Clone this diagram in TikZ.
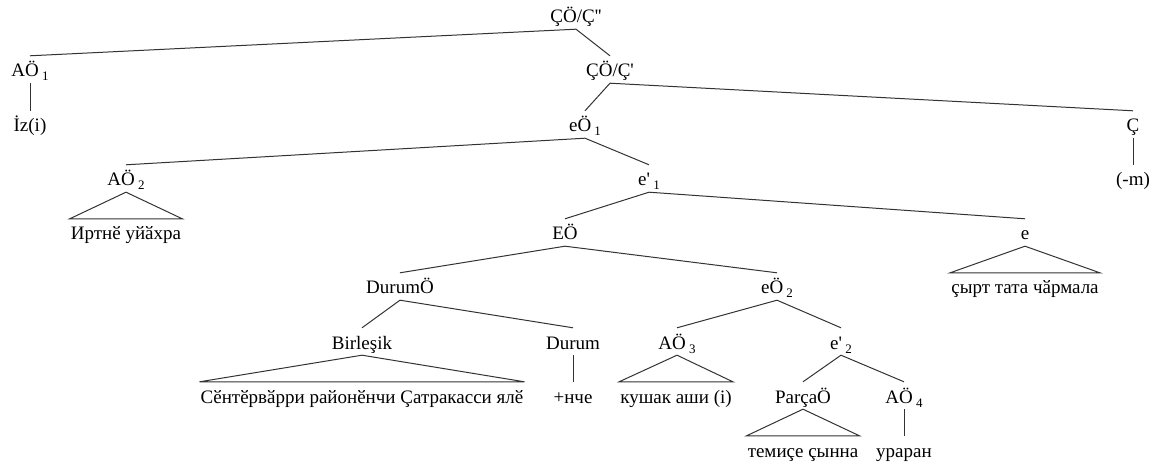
\documentclass[tikz,border=0pt]{standalone}
\usepackage{fontspec}
\newfontfamily\treefont{Liberation Serif}
\tikzset{lbl/.style={font={\treefont\fontsize{19}{21}\selectfont},anchor=base,inner xsep=1pt,inner ysep=0pt,text height=21pt,text depth=6pt},
         edge/.style={line width=1pt,black!80}}
\newcommand\lo[1]{\,\raisebox{-4pt}{\fontsize{13}{13}\selectfont #1}}

\begin{document}
\begin{tikzpicture}[x=1pt,y=-1pt]
        \useasboundingbox (0,0) rectangle (1157,465);
        % labels, one row every 54pt
        \node[lbl] (root) at (576,23) {ÇÖ/Ç''};
        \node[lbl] (ao1) at (30,77) {AÖ\lo{1}};
        \node[lbl] (cp1) at (610,77) {ÇÖ/Ç'};
        \node[lbl] (iz) at (30,132) {İz(i)};
        \node[lbl] (eo1) at (585,132) {eÖ\lo{1}};
        \node[lbl] (cc) at (1133,132) {Ç};
        \node[lbl] (ao2) at (126,186) {AÖ\lo{2}};
        \node[lbl] (ep1) at (649,186) {e'\lo{1}};
        \node[lbl] (ms) at (1133,186) {(-m)};
        \node[lbl] (w1) at (126,240) {Иртнӗ уйӑхра};
        \node[lbl] (eo) at (565,240) {EÖ};
        \node[lbl] (e) at (1025,240) {e};
        \node[lbl] (w2) at (1025,294) {çырт тата чӑрмала};
        \node[lbl] (do) at (400,294) {DurumÖ};
        \node[lbl] (eo2) at (777,294) {eÖ\lo{2}};
        \node[lbl] (bir) at (362,349) {Birleşik};
        \node[lbl] (dur) at (573,349) {Durum};
        \node[lbl] (ao3) at (677,349) {AÖ\lo{3}};
        \node[lbl] (ep2) at (841,349) {e'\lo{2}};
        \node[lbl] (w3) at (362,403) {Сӗнтӗрвӑрри районӗнчи Çатракасси ялӗ};
        \node[lbl] (nche) at (573,403) {+нче};
        \node[lbl] (w4) at (676,403) {кушак аши (i)};
        \node[lbl] (pa) at (803,403) {ParçaÖ};
        \node[lbl] (ao4) at (904,403) {AÖ\lo{4}};
        \node[lbl] (w5) at (803,457) {темиçе çынна};
        \node[lbl] (w6) at (904,457) {ураран};
        % branches
        \draw[edge] (ao1.north) -- (root.south) -- (cp1.north);
        \draw[edge] (ao1.south) -- (iz.north);
        \draw[edge] (eo1.north) -- (cp1.south) -- (cc.north);
        \draw[edge] (cc.south) -- (ms.north);
        \draw[edge] (ao2.north) -- (eo1.south) -- (ep1.north);
        \draw[edge] (eo.north) -- (ep1.south) -- (e.north);
        \draw[edge] (do.north) -- (eo.south) -- (eo2.north);
        \draw[edge] (bir.north) -- (do.south) -- (dur.north);
        \draw[edge] (dur.south) -- (nche.north);
        \draw[edge] (ao3.north) -- (eo2.south) -- (ep2.north);
        \draw[edge] (pa.north) -- (ep2.south) -- (ao4.north);
        \draw[edge] (ao4.south) -- (w6.north);
        % roofs
        \draw[edge] (ao2.south) -- (w1.north west) -- (w1.north east) -- cycle;
        \draw[edge] (e.south) -- (w2.north west) -- (w2.north east) -- cycle;
        \draw[edge] (bir.south) -- (w3.north west) -- (w3.north east) -- cycle;
        \draw[edge] (ao3.south) -- (w4.north west) -- (w4.north east) -- cycle;
        \draw[edge] (pa.south) -- (w5.north west) -- (w5.north east) -- cycle;
    \end{tikzpicture}
\end{document}
